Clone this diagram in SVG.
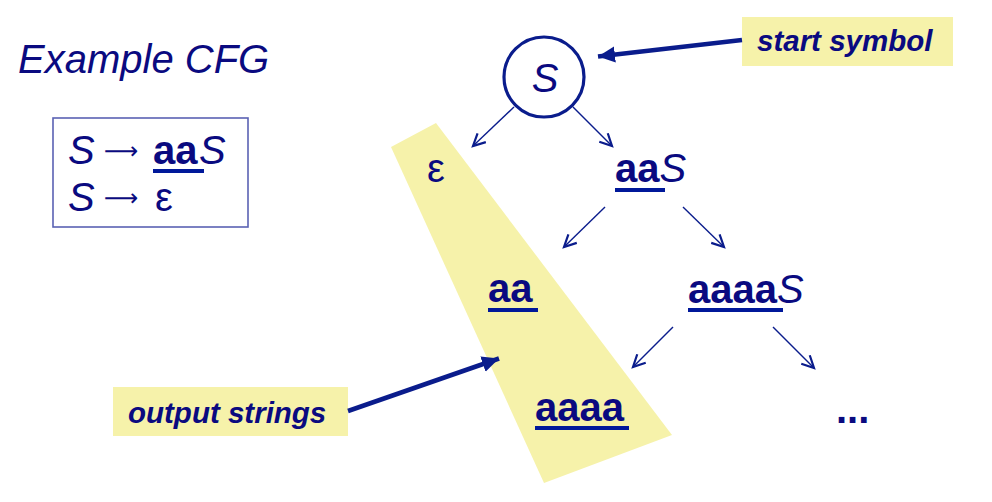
<svg xmlns="http://www.w3.org/2000/svg" width="992" height="502" viewBox="0 0 992 502">
  <style>
    .t { font-family: "Liberation Sans", Arial, sans-serif; fill: #0a0a80; }
    .arr { font-family: "DejaVu Sans", sans-serif; font-size: 24px; }
    .big { font-size: 40px; }
    .it { font-style: italic; }
    .b { font-weight: bold; }
    .lbl { font-size: 29.5px; font-weight: bold; font-style: italic; }
    .ul { stroke: #00189a; stroke-width: 4; }
    .thin { stroke: #0a1c8c; stroke-width: 1.4; fill: none; }
    .thick { stroke: #0a1c8c; stroke-width: 4.5; fill: none; }
    .hl { fill: #f6f2aa; }
  </style>
  <defs>
    <marker id="open" markerUnits="userSpaceOnUse" markerWidth="16" markerHeight="16" refX="13" refY="7" orient="auto">
      <path d="M1,1 L13,7 L1,13" fill="none" stroke="#0a1c8c" stroke-width="2.2" stroke-linejoin="miter"/>
    </marker>
    <marker id="solid" markerUnits="userSpaceOnUse" markerWidth="20" markerHeight="18" refX="17" refY="8" orient="auto">
      <path d="M0,0 L17,8 L0,16 Z" fill="#0a1c8c"/>
    </marker>
  </defs>

  <rect width="992" height="502" fill="#ffffff"/>

  <g id="highlight">
    <polygon class="hl" points="391,147 436,123 672,435 544,483"/>
  </g>

  <g id="title">
    <text class="t big it" x="18" y="73">Example CFG</text>
  </g>

  <g id="grammar">
    <rect x="53" y="118" width="195" height="109" fill="none" stroke="#5a62b3" stroke-width="1.6"/>
    <text class="t big"><tspan class="it" x="68" y="164">S</tspan><tspan class="arr" x="104" y="159">⟶</tspan><tspan class="b" x="153" y="164">aa</tspan><tspan class="it" x="199" y="164">S</tspan><tspan class="it" x="68" y="211">S</tspan><tspan class="arr" x="104" y="205.5">⟶</tspan><tspan x="155" y="211">ε</tspan></text>
    <line class="ul" x1="153" y1="171" x2="204" y2="171"/>
  </g>

  <g id="node-S">
    <circle cx="544" cy="77" r="40" fill="none" stroke="#0a1c8c" stroke-width="3.2"/>
    <text class="t big it" x="545" y="92" text-anchor="middle">S</text>
  </g>

  <g id="node-eps">
    <text class="t big" x="427" y="182">ε</text>
  </g>

  <g id="node-aaS">
    <text class="t big" x="615" y="182"><tspan class="b">aa</tspan><tspan class="it">S</tspan></text>
    <line class="ul" x1="615" y1="190" x2="665" y2="190"/>
  </g>

  <g id="node-aa">
    <text class="t big b" x="488" y="302">aa</text>
    <line class="ul" x1="488" y1="310" x2="538" y2="310"/>
  </g>

  <g id="node-aaaaS">
    <text class="t big" x="688" y="303"><tspan class="b">aaaa</tspan><tspan class="it">S</tspan></text>
    <line class="ul" x1="688" y1="310" x2="783" y2="310"/>
  </g>

  <g id="node-aaaa">
    <text class="t big b" x="535" y="421">aaaa</text>
    <line class="ul" x1="535" y1="428" x2="629" y2="428"/>
  </g>

  <g id="node-dots">
    <text class="t big b" x="836" y="423">...</text>
  </g>

  <g id="label-start">
    <rect class="hl" x="742" y="17" width="211" height="49"/>
    <text class="t lbl" x="757" y="51">start symbol</text>
  </g>

  <g id="label-output">
    <rect class="hl" x="113" y="387" width="235" height="49"/>
    <text class="t lbl" x="128" y="423">output strings</text>
  </g>

  <g id="connectors">
    <line class="thin" x1="514" y1="107" x2="473" y2="146" marker-end="url(#open)"/>
    <line class="thin" x1="573" y1="107" x2="612" y2="146" marker-end="url(#open)"/>
    <line class="thin" x1="605" y1="207" x2="564" y2="247" marker-end="url(#open)"/>
    <line class="thin" x1="683" y1="207" x2="724" y2="247" marker-end="url(#open)"/>
    <line class="thin" x1="673" y1="327" x2="633" y2="367" marker-end="url(#open)"/>
    <line class="thin" x1="773" y1="327" x2="814" y2="368" marker-end="url(#open)"/>
    <line class="thick" x1="742" y1="40" x2="598" y2="56.5" marker-end="url(#solid)"/>
    <line class="thick" x1="348" y1="411" x2="499" y2="358.5" marker-end="url(#solid)"/>
  </g>
</svg>
